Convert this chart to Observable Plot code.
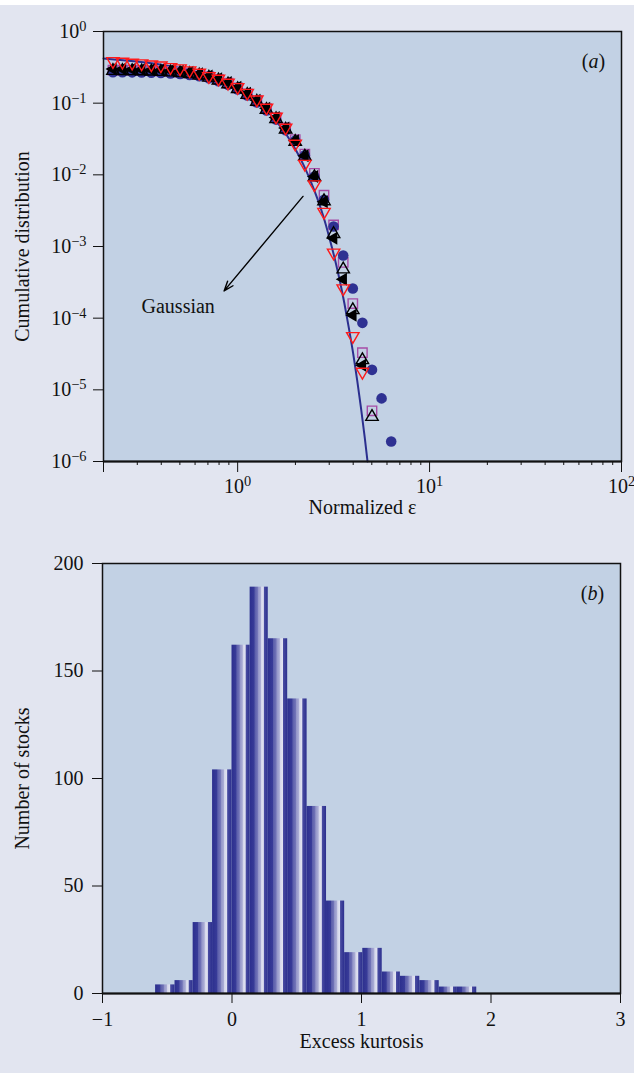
<!DOCTYPE html>
<html>
<head>
<meta charset="utf-8">
<script src="https://cdn.jsdelivr.net/npm/d3@7"></script>
<script src="https://cdn.jsdelivr.net/npm/@observablehq/plot@0.6"></script>
<style>
  body { margin: 0; background: #ffffff; }
  #page { position: relative; width: 634px; height: 1073px; background: #e2e5f0; overflow: hidden; }
  #strip { position: absolute; left: 0; top: 0; width: 634px; height: 5px; background: #ffffff; }
  #top { position: absolute; left: 0; top: 0; }
  #bot { position: absolute; left: 0; top: 540px; }
  svg text { fill: #111; }
</style>
</head>
<body>
<div id="page"><div id="strip"></div><div id="top"></div><div id="bot"></div></div>
<script>
// ---------------- Panel (a) data ----------------
const epsGrid = [0.224, 0.251, 0.282, 0.316, 0.355, 0.398, 0.447, 0.501, 0.562, 0.631, 0.708, 0.794, 0.891, 1.0, 1.122, 1.259, 1.413, 1.585, 1.778, 1.995, 2.239, 2.512, 2.818, 3.162, 3.548, 3.981, 4.467, 5.012, 5.623, 6.310];
const circleValues = [0.27, 0.27, 0.269, 0.268, 0.266, 0.264, 0.26, 0.255, 0.248, 0.237, 0.222, 0.203, 0.18, 0.155, 0.128, 0.102, 0.079, 0.059, 0.042, 0.03, 0.0187, 0.0095, 0.0045, 0.0019, 7.5e-4, 2.6e-4, 8.6e-5, 1.9e-5, 7.6e-6, 1.9e-6];
const squareValues = [0.29, 0.289, 0.288, 0.286, 0.284, 0.281, 0.277, 0.271, 0.263, 0.251, 0.235, 0.215, 0.19, 0.163, 0.135, 0.108, 0.084, 0.063, 0.045, 0.031, 0.0195, 0.0105, 0.0052, 2.0e-3, 6.0e-4, 1.6e-4, 3.3e-5, 5.1e-6];
const openTriValues = [0.283, 0.282, 0.281, 0.279, 0.277, 0.274, 0.27, 0.264, 0.256, 0.244, 0.228, 0.208, 0.184, 0.158, 0.131, 0.105, 0.081, 0.06, 0.043, 0.029, 0.018, 0.0093, 0.0043, 1.5e-3, 4.8e-4, 1.3e-4, 2.6e-5, 4.2e-6];
const filledTriValues = [0.3, 0.299, 0.298, 0.296, 0.293, 0.29, 0.285, 0.279, 0.27, 0.257, 0.24, 0.219, 0.194, 0.167, 0.138, 0.11, 0.085, 0.063, 0.045, 0.03, 0.0185, 0.0095, 0.0042, 1.3e-3, 3.5e-4, 1.1e-4, 2.2e-5];
const redTriValues = [0.385, 0.377, 0.366, 0.358, 0.346, 0.335, 0.318, 0.305, 0.286, 0.265, 0.238, 0.219, 0.192, 0.167, 0.139, 0.112, 0.0863, 0.0646, 0.0453, 0.0271, 0.0142, 0.00735, 0.00303, 8.2e-4, 2.6e-4, 5.6e-5, 1.78e-5];
const gaussX = [0.2, 0.3, 0.4, 0.5, 0.6, 0.7, 0.8, 0.9, 1.0, 1.2, 1.4, 1.6, 1.8, 2.0, 2.2, 2.4, 2.6, 2.8, 3.0, 3.2, 3.4, 3.6, 3.8, 4.0, 4.2, 4.4, 4.6, 4.75];
const gaussY = [0.42, 0.38, 0.345, 0.31, 0.274, 0.242, 0.212, 0.184, 0.159, 0.115, 0.081, 0.055, 0.036, 0.0228, 0.0139, 0.0082, 0.0047, 0.0026, 0.00135, 6.9e-4, 3.4e-4, 1.6e-4, 7.2e-5, 3.2e-5, 1.33e-5, 5.4e-6, 2.1e-6, 1.0e-6];
const yTicksA = [1e-6, 1e-5, 1e-4, 1e-3, 1e-2, 1e-1, 1];
const xTicksA = [1, 10, 100];
const xMinorTicksA = [0.3, 0.4, 0.5, 0.6, 0.7, 0.8, 0.9, 2, 3, 4, 5, 6, 7, 8, 9, 20, 30, 40, 50, 60, 70, 80, 90];
const gaussLabel = ["Gaussian"];
const gaussLabelAt = [0.49, 1.45e-4];
const arrowFrom = [2.19, 5.0e-3];
const arrowTo = [0.85, 2.4e-4];

// ---------------- Panel (b) data ----------------
const binStart = [-0.59, -0.44, -0.30, -0.15, 0.00, 0.14, 0.28, 0.43, 0.58, 0.73, 0.87, 1.01, 1.16, 1.30, 1.45, 1.60, 1.74];
const binEnd   = [-0.44, -0.30, -0.15, 0.00, 0.14, 0.28, 0.43, 0.58, 0.73, 0.87, 1.01, 1.16, 1.30, 1.45, 1.60, 1.74, 1.89];
const stockCounts = [4, 6, 33, 104, 162, 189, 165, 137, 87, 43, 19, 21, 10, 8, 6, 3, 3];
const xTicksB = [-1, 0, 1, 2, 3];
const yTicksB = [0, 50, 100, 150, 200];

// ---------------- helpers ----------------
const ns = "http://www.w3.org/2000/svg";
const S3 = Math.sqrt(3);
const triDown = {draw(ctx, size) { const y = -Math.sqrt(size / (3 * S3)); ctx.moveTo(0, -2 * y); ctx.lineTo(-S3 * y, y); ctx.lineTo(S3 * y, y); ctx.closePath(); }};
const triLeft = {draw(ctx, size) { const y = -Math.sqrt(size / (3 * S3)); ctx.moveTo(2 * y, 0); ctx.lineTo(-y, -S3 * y); ctx.lineTo(-y, S3 * y); ctx.closePath(); }};
const rows = (xs, ys) => ys.map((v, i) => ({x: xs[i], y: v}));
const powFmt = d => "10^" + String(Math.round(Math.log10(d))).replace("-", "\u2212");
const intFmt = d => String(d).replace("-", "\u2212");
const font = "'Liberation Serif', 'Times New Roman', serif";
const plotBg = "#c2d1e4";

function superscripts(svg) {
  svg.querySelectorAll("text").forEach(t => {
    const m = t.textContent.match(/^10\^(.+)$/);
    if (m) {
      t.textContent = "10";
      const ts = document.createElementNS(ns, "tspan");
      ts.setAttribute("dy", "-0.48em");
      ts.setAttribute("font-size", "0.72em");
      ts.textContent = m[1];
      t.appendChild(ts);
    }
    const p = t.textContent.match(/^\((a|b)\)$/);
    if (p) {
      t.textContent = "(";
      const it = document.createElementNS(ns, "tspan");
      it.setAttribute("font-style", "italic");
      it.textContent = p[1];
      t.appendChild(it);
      const cl = document.createElementNS(ns, "tspan");
      cl.textContent = ")";
      t.appendChild(cl);
    }
  });
}

// ---------------- Panel (a) ----------------
const chartA = Plot.plot({
  width: 634, height: 540,
  marginTop: 31, marginLeft: 103, marginRight: 13, marginBottom: 79,
  style: {fontFamily: font, fontSize: "20px", background: "transparent", color: "#111"},
  x: {type: "log", domain: [0.2, 100]},
  y: {type: "log", domain: [1e-6, 1]},
  marks: [
    Plot.frame({fill: plotBg}),
    Plot.line(rows(gaussX, gaussY), {x: "x", y: "y", stroke: "#2b2f8f", strokeWidth: 2, curve: "monotone-x"}),
    Plot.dot(rows(epsGrid, squareValues), {x: "x", y: "y", symbol: "square", r: 5.3, stroke: "#a64ca6", fill: "none", strokeWidth: 1.4}),
    Plot.dot(rows(epsGrid, circleValues), {x: "x", y: "y", r: 5.3, fill: "#2e3192", stroke: "none"}),
    Plot.dot(rows(epsGrid, filledTriValues), {x: "x", y: "y", symbol: triLeft, r: 4.8, fill: "black", stroke: "none"}),
    Plot.dot(rows(epsGrid, openTriValues), {x: "x", y: "y", symbol: "triangle", r: 4.6, stroke: "black", fill: "none", strokeWidth: 1.4}),
    Plot.dot(rows(epsGrid, redTriValues), {x: "x", y: "y", symbol: triDown, r: 4.6, stroke: "#ff1a1a", fill: "none", strokeWidth: 1.4}),
    Plot.arrow([{x1: arrowFrom[0], y1: arrowFrom[1], x2: arrowTo[0], y2: arrowTo[1]}], {x1: "x1", y1: "y1", x2: "x2", y2: "y2", stroke: "black", strokeWidth: 1.4, headLength: 11, headAngle: 40}),
    Plot.text(gaussLabel, {x: () => gaussLabelAt[0], y: () => gaussLabelAt[1], text: d => d, fontSize: 20, textAnchor: "middle"}),
    Plot.text(["(a)"], {frameAnchor: "top-right", dx: -28, dy: 22, text: d => d, fontSize: 20, textAnchor: "middle"}),
    Plot.frame({stroke: "#111", strokeWidth: 1.5}),
    Plot.ruleY([1e-6], {stroke: "#111", strokeWidth: 2}),
    Plot.axisY({ticks: yTicksA, tickFormat: powFmt, tickSize: 10, tickPadding: 7, label: null, fontSize: 20}),
    Plot.axisX({ticks: xTicksA, tickFormat: powFmt, tickSize: 11, tickPadding: 6, label: null, fontSize: 20}),
    Plot.axisX({ticks: [0.2], tickFormat: () => "", tickSize: 11, label: null}),
    Plot.axisX({ticks: xMinorTicksA, tickFormat: () => "", tickSize: 4, label: null}),
    Plot.text(["Cumulative distribution"], {frameAnchor: "left", dx: -81, rotate: -90, text: d => d, fontSize: 20, textAnchor: "middle"}),
    Plot.text(["Normalized \u03b5"], {frameAnchor: "bottom", dy: 52, text: d => d, fontSize: 20, textAnchor: "middle"})
  ]
});
superscripts(chartA);
document.getElementById("top").appendChild(chartA);

// ---------------- Panel (b) ----------------
const histRows = stockCounts.map((n, i) => ({x1: binStart[i], x2: binEnd[i], n}));
const chartB = Plot.plot({
  width: 634, height: 533,
  marginTop: 23, marginLeft: 102, marginRight: 14, marginBottom: 80,
  style: {fontFamily: font, fontSize: "20px", background: "transparent", color: "#111"},
  x: {domain: [-1, 3]},
  y: {domain: [0, 200]},
  marks: [
    Plot.frame({fill: plotBg}),
    Plot.rectY(histRows, {x1: "x1", x2: "x2", y: "n", fill: "url(#barGrad)"}),
    Plot.text(["(b)"], {frameAnchor: "top-right", dx: -28, dy: 22, text: d => d, fontSize: 20, textAnchor: "middle"}),
    Plot.frame({stroke: "#111", strokeWidth: 1.5}),
    Plot.ruleY([0], {stroke: "#111", strokeWidth: 2}),
    Plot.axisY({ticks: yTicksB, tickSize: 10, tickPadding: 9, label: null, fontSize: 20}),
    Plot.axisX({ticks: xTicksB, tickFormat: intFmt, tickSize: 10, tickPadding: 8, label: null, fontSize: 20}),
    Plot.text(["Number of stocks"], {frameAnchor: "left", dx: -80, rotate: -90, text: d => d, fontSize: 20, textAnchor: "middle"}),
    Plot.text(["Excess kurtosis"], {frameAnchor: "bottom", dy: 54, text: d => d, fontSize: 20, textAnchor: "middle"})
  ]
});
{
  const defs = document.createElementNS(ns, "defs");
  const g = document.createElementNS(ns, "linearGradient");
  g.setAttribute("id", "barGrad");
  g.setAttribute("x1", "0"); g.setAttribute("x2", "1"); g.setAttribute("y1", "0"); g.setAttribute("y2", "0");
  const stops = [[0, "#2c2f8e"], [0.25, "#383b98"], [0.29, "#5a5daa"], [0.43, "#7173b7"], [0.47, "#9395c9"], [0.6, "#abadd5"], [0.64, "#d4d6eb"], [0.76, "#e1e3f1"], [0.8, "#484ba1"], [1, "#2c2f8e"]];
  for (const [o, c] of stops) {
    const s = document.createElementNS(ns, "stop");
    s.setAttribute("offset", o); s.setAttribute("stop-color", c);
    g.appendChild(s);
  }
  defs.appendChild(g);
  chartB.insertBefore(defs, chartB.firstChild);
}
superscripts(chartB);
document.getElementById("bot").appendChild(chartB);
</script>
</body>
</html>
